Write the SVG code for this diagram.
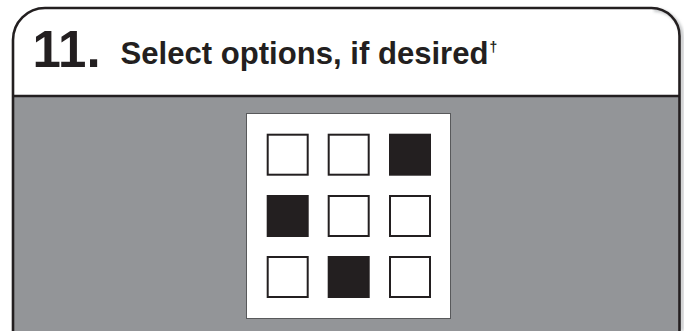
<svg xmlns="http://www.w3.org/2000/svg" width="686" height="331" viewBox="0 0 686 331">
<style>
.frame{fill:none;stroke:#231f20;stroke-width:2.6}
.sq{fill:#fff;stroke:#231f20;stroke-width:2}
.sq.on{fill:#231f20}
.t{font-family:"Liberation Sans",Arial,Helvetica,sans-serif;font-weight:bold;fill:#231f20}
</style>
<defs>
<filter id="sh" x="-5%" y="-5%" width="110%" height="110%"><feGaussianBlur stdDeviation="1.5"/></filter>
</defs>
<rect x="0" y="0" width="686" height="331" fill="#fff"/>
<g id="shadow">
<path d="M654,10 A28,28 0 0 1 682,38 L682,331" fill="none" stroke="#bcbec0" stroke-width="3" filter="url(#sh)"/>
</g>
<g id="panel">
<path d="M13,331 L13,97 L679.5,97 L679.5,331 Z" fill="#939598"/>
<path class="frame" d="M13,331 L13,40 A32,32 0 0 1 45,8 L651.5,8 A28,28 0 0 1 679.5,36 L679.5,331"/>
<line class="frame" x1="13" y1="96" x2="679.5" y2="96"/>
</g>
<g id="title">
<text class="t" x="32.5" y="67" font-size="51">11.</text>
<text class="t" x="120.5" y="64.3" font-size="30.5" textLength="368" lengthAdjust="spacingAndGlyphs">Select options, if desired</text>
<text class="t" x="489.5" y="52" font-size="14">†</text>
</g>
<g id="grid">
<rect x="246.5" y="113.5" width="204" height="205" fill="#fff" stroke="#58595b" stroke-width="1"/>
<rect class="sq" x="267.7" y="134.7" width="40" height="40"/>
<rect class="sq" x="328.7" y="134.7" width="40" height="40"/>
<rect class="sq on" x="390" y="134.7" width="40" height="40"/>
<rect class="sq on" x="267.7" y="196" width="40" height="40"/>
<rect class="sq" x="328.7" y="196" width="40" height="40"/>
<rect class="sq" x="390" y="196" width="40" height="40"/>
<rect class="sq" x="267.7" y="257" width="40" height="40"/>
<rect class="sq on" x="328.7" y="257" width="40" height="40"/>
<rect class="sq" x="390" y="257" width="40" height="40"/>
</g>
</svg>
